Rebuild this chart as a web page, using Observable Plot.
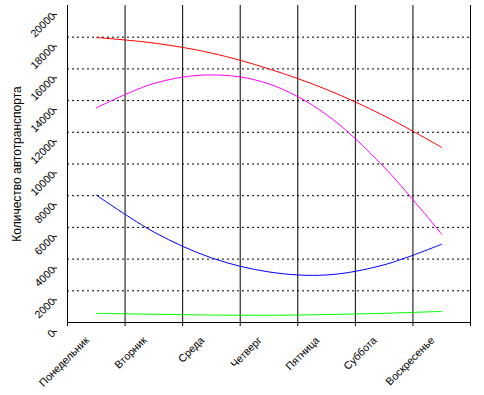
<!DOCTYPE html>
<html><head><meta charset="utf-8">
<script src="https://cdn.jsdelivr.net/npm/d3@7"></script>
<script src="https://cdn.jsdelivr.net/npm/@observablehq/plot@0.6"></script>
<style>html,body{margin:0;padding:0;background:#fff}</style>
</head><body><div id="chart"></div>
<script>
const days = ["Понедельник","Вторник","Среда","Четверг","Пятница","Суббота","Воскресенье"];
const seriesRed = [17980, 17630, 17000, 16000, 14700, 13040, 11050];
const seriesMagenta = [13540, 15080, 15620, 15050, 13110, 9800, 5570];
const seriesBlue = [8040, 5710, 4080, 3190, 3000, 3640, 4940];
const seriesGreen = [580, 520, 470, 455, 500, 580, 700];
const yTicks = [0, 2000, 4000, 6000, 8000, 10000, 12000, 14000, 16000, 18000, 20000];
const yGrid = [2000, 4000, 6000, 8000, 10000, 12000, 14000, 16000, 18000];

const idx = days.map((d, i) => i);
const bounds = days.map((d, i) => i - 0.5).concat([days.length - 0.5]);
const rows = vals => vals.map((v, i) => ({i, v}));

const lineOpts = color => ({x: "i", y: "v", stroke: color, strokeWidth: 1, curve: "cardinal", tension: 0});

const chart = Plot.plot({
  width: 484, height: 395,
  marginLeft: 67, marginRight: 14, marginTop: 5, marginBottom: 73,
  style: {fontFamily: "'Liberation Sans', Arial, sans-serif", fontSize: "10.7px", color: "black", background: "white"},
  x: {type: "linear", domain: [-0.5, days.length - 0.5]},
  y: {domain: [0, 20000]},
  marks: [
    Plot.gridY(yGrid, {stroke: "black", strokeOpacity: 1, strokeDasharray: "2,3"}),
    Plot.gridX(bounds, {stroke: "black", strokeOpacity: 1}),
    Plot.ruleY([0], {stroke: "black"}),
    Plot.axisY(yTicks, {tickSize: 4, tickRotate: -45, tickPadding: 0, dx: -10, dy: 9, tickFormat: d => String(d), label: null}),
    Plot.axisY([], {label: "Количество автотранспорта", labelAnchor: "center", labelArrow: "none", labelOffset: 55, fontSize: 12, tickSize: 0}),
    Plot.axisX(bounds, {tickSize: 4, tickFormat: () => "", label: null}),
    Plot.axisX(idx, {tickSize: 0, tickFormat: i => days[i], tickRotate: -45, textAnchor: "end", lineAnchor: "middle", tickPadding: 0, dx: -9, dy: 16, label: null}),
    Plot.line(rows(seriesRed), lineOpts("#ff0000")),
    Plot.line(rows(seriesMagenta), lineOpts("#ff00ff")),
    Plot.line(rows(seriesBlue), lineOpts("#0000ff")),
    Plot.line(rows(seriesGreen), lineOpts("#00ff00"))
  ]
});
document.getElementById("chart").appendChild(chart);
</script>
</body></html>
